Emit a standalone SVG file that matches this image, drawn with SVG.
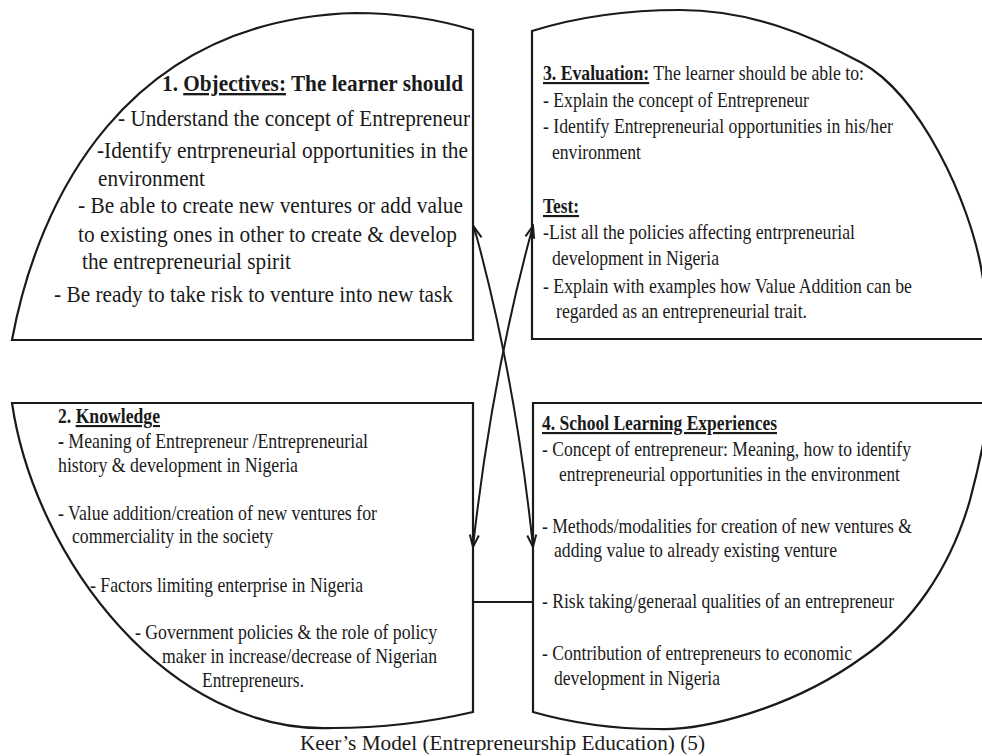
<svg xmlns="http://www.w3.org/2000/svg" width="982" height="756" viewBox="0 0 982 756">
<style>
.shape{fill:none;stroke:#1a1a1a;stroke-width:2.2;stroke-linejoin:miter}
.conn{fill:none;stroke:#1a1a1a;stroke-width:2}
text{font-family:"Liberation Serif","Times New Roman",serif;fill:#1a1a1a}
.t1{font-size:23.5px}
.t{font-size:21.5px}
.b{font-weight:bold}
.u{text-decoration:underline}
</style>
<defs>
<marker id="arr" viewBox="-14 -7 16 14" refX="0" refY="0" markerWidth="16" markerHeight="14" markerUnits="userSpaceOnUse" orient="auto-start-reverse">
<path d="M-12,-4.5 L0,0 L-12,4.5" fill="none" stroke="#1a1a1a" stroke-width="2"/>
</marker>
</defs>
<rect width="982" height="756" fill="#fff"/>

<g id="q1">
<path class="shape" d="M473,30 C440,20 400,13 355,13 C125,20 38,200 12,340 L473,340 Z"/>
<text class="t1" x="162" y="91" textLength="301" lengthAdjust="spacingAndGlyphs"><tspan class="b">1. </tspan><tspan class="b u">Objectives:</tspan><tspan class="b"> The learner should</tspan></text>
<text class="t1" x="118" y="126" textLength="352" lengthAdjust="spacingAndGlyphs">- Understand the concept of Entrepreneur</text>
<text class="t1" x="97" y="158" textLength="371" lengthAdjust="spacingAndGlyphs">-Identify entrpreneurial opportunities in the</text>
<text class="t1" x="98" y="186" textLength="107" lengthAdjust="spacingAndGlyphs">environment</text>
<text class="t1" x="78" y="213" textLength="385" lengthAdjust="spacingAndGlyphs">- Be able to create new ventures or add value</text>
<text class="t1" x="78" y="242" textLength="379" lengthAdjust="spacingAndGlyphs">to existing ones in other to create &amp; develop</text>
<text class="t1" x="82" y="269" textLength="209" lengthAdjust="spacingAndGlyphs">the entrepreneurial spirit</text>
<text class="t1" x="54" y="302" textLength="399" lengthAdjust="spacingAndGlyphs">- Be ready to take risk to venture into new task</text>
</g>

<g id="q3">
<path class="shape" d="M532,339 L532,31 C580,16 630,10 680,10 C750,10 810,35 862,63 C919,94 970,200 982,273 C986,297 990,320 992,339 Z"/>
<text class="t" x="543" y="80" textLength="321" lengthAdjust="spacingAndGlyphs"><tspan class="b u">3. Evaluation:</tspan> The learner should be able to:</text>
<text class="t" x="543" y="107" textLength="266" lengthAdjust="spacingAndGlyphs">- Explain the concept of Entrepreneur</text>
<text class="t" x="543" y="133" textLength="350" lengthAdjust="spacingAndGlyphs">- Identify Entrepreneurial opportunities in his/her</text>
<text class="t" x="552" y="159" textLength="89" lengthAdjust="spacingAndGlyphs">environment</text>
<text class="t b u" x="543" y="213" textLength="36" lengthAdjust="spacingAndGlyphs">Test:</text>
<text class="t" x="543" y="239" textLength="312" lengthAdjust="spacingAndGlyphs">-List all the policies affecting entrpreneurial</text>
<text class="t" x="552" y="265" textLength="167" lengthAdjust="spacingAndGlyphs">development in Nigeria</text>
<text class="t" x="543" y="293" textLength="369" lengthAdjust="spacingAndGlyphs">- Explain with examples how Value Addition can be</text>
<text class="t" x="556" y="318" textLength="251" lengthAdjust="spacingAndGlyphs">regarded as an entrepreneurial trait.</text>
</g>

<g id="q2">
<path class="shape" d="M12,403 L473,403 L473,712 C430,722 380,728 333,728 C170,735 35,560 12,403 Z"/>
<text class="t" x="58" y="423" textLength="102" lengthAdjust="spacingAndGlyphs"><tspan class="b">2. </tspan><tspan class="b u">Knowledge</tspan></text>
<text class="t" x="58" y="448" textLength="310" lengthAdjust="spacingAndGlyphs"><tspan class="b">-</tspan> Meaning of Entrepreneur /Entrepreneurial</text>
<text class="t" x="58" y="472" textLength="240" lengthAdjust="spacingAndGlyphs">history &amp; development in Nigeria</text>
<text class="t" x="58" y="520" textLength="319" lengthAdjust="spacingAndGlyphs">- Value addition/creation of new ventures for</text>
<text class="t" x="72" y="543" textLength="201" lengthAdjust="spacingAndGlyphs">commerciality in the society</text>
<text class="t" x="90" y="592" textLength="273" lengthAdjust="spacingAndGlyphs">- Factors limiting enterprise in Nigeria</text>
<text class="t" x="135" y="639" textLength="302" lengthAdjust="spacingAndGlyphs">- Government policies &amp; the role of policy</text>
<text class="t" x="162" y="663" textLength="275" lengthAdjust="spacingAndGlyphs">maker in increase/decrease of Nigerian</text>
<text class="t" x="202" y="687" textLength="102" lengthAdjust="spacingAndGlyphs">Entrepreneurs.</text>
</g>

<g id="q4">
<path class="shape" d="M533,403 L995,403 L990,403 C985,440 978,470 970,500 C950,570 910,625 863,657 C790,710 700,731 657,729 C615,729 575,724 533,712 Z"/>
<text class="t b u" x="542" y="430" textLength="235" lengthAdjust="spacingAndGlyphs">4. School Learning Experiences</text>
<text class="t" x="542" y="456" textLength="369" lengthAdjust="spacingAndGlyphs">- Concept of entrepreneur: Meaning, how to identify</text>
<text class="t" x="559" y="481" textLength="341" lengthAdjust="spacingAndGlyphs">entrepreneurial opportunities in the environment</text>
<text class="t" x="542" y="533" textLength="370" lengthAdjust="spacingAndGlyphs">- Methods/modalities for creation of new ventures &amp;</text>
<text class="t" x="554" y="557" textLength="283" lengthAdjust="spacingAndGlyphs">adding value to already existing venture</text>
<text class="t" x="542" y="608" textLength="352" lengthAdjust="spacingAndGlyphs">- Risk taking/generaal qualities of an entrepreneur</text>
<text class="t" x="542" y="660" textLength="310" lengthAdjust="spacingAndGlyphs">- Contribution of entrepreneurs to economic</text>
<text class="t" x="554" y="685" textLength="166" lengthAdjust="spacingAndGlyphs">development in Nigeria</text>
</g>

<g id="connectors">
<path class="conn" d="M474,227 Q515,375 533,547" marker-start="url(#arr)" marker-end="url(#arr)"/>
<path class="conn" d="M533,226 Q492,375 473,547" marker-start="url(#arr)" marker-end="url(#arr)"/>
<path class="conn" d="M473,602 L533,602"/>
</g>

<g id="caption">
<text x="300" y="750" style="font-size:21px" textLength="405" lengthAdjust="spacingAndGlyphs">Keer’s Model (Entrepreneurship Education) (5)</text>
</g>
</svg>
